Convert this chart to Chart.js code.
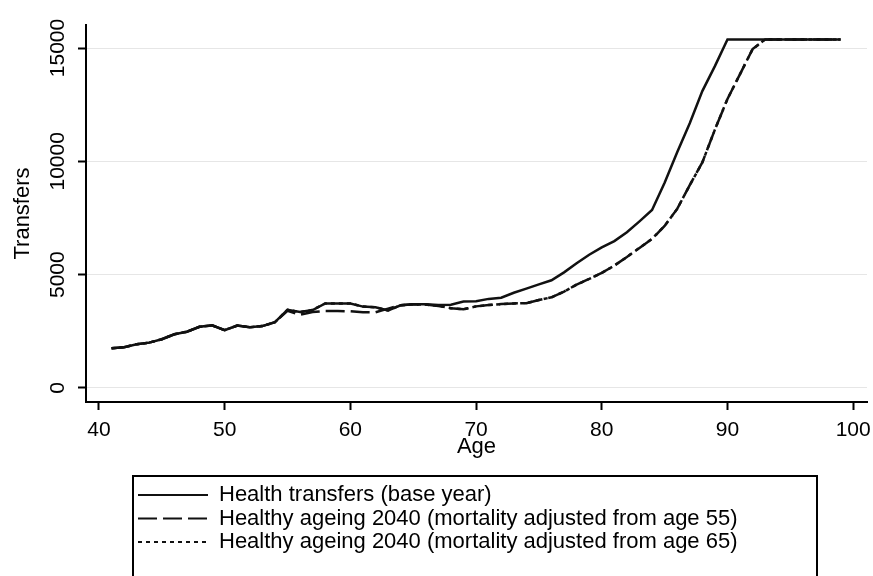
<!DOCTYPE html>
<html>
<head>
<meta charset="utf-8">
<script src="https://cdn.jsdelivr.net/npm/chart.js@4.4.1/dist/chart.umd.min.js"></script>
<style>
  html, body { margin: 0; padding: 0; background: #fff; }
</style>
</head>
<body>
<canvas id="myChart" width="873" height="576"></canvas>
<script>
var ages = [41, 42, 43, 44, 45, 46, 47, 48, 49, 50,
            51, 52, 53, 54, 55, 56, 57, 58, 59, 60,
            61, 62, 63, 64, 65, 66, 67, 68, 69, 70,
            71, 72, 73, 74, 75, 76, 77, 78, 79, 80,
            81, 82, 83, 84, 85, 86, 87, 88, 89, 90,
            91, 92, 93, 94, 95, 96, 97, 98, 99];

var baseYear = [1750, 1800, 1930, 2000, 2150, 2370, 2480, 2700, 2760, 2550,
                2750, 2680, 2730, 2900, 3450, 3350, 3440, 3730, 3730, 3730,
                3590, 3560, 3420, 3650, 3690, 3690, 3660, 3670, 3810, 3830,
                3930, 3980, 4200, 4380, 4570, 4750, 5100, 5500, 5880, 6200,
                6480, 6870, 7350, 7850, 9050, 10400, 11680, 13100, 14200, 15380,
                15380, 15380, 15380, 15380, 15380, 15380, 15380, 15380, 15380];

var ageing55 = [1750, 1800, 1930, 2000, 2150, 2370, 2480, 2700, 2760, 2550,
                2750, 2680, 2730, 2900, 3400, 3230, 3350, 3400, 3400, 3380,
                3340, 3340, 3500, 3650, 3690, 3680, 3620, 3520, 3470, 3600,
                3660, 3700, 3730, 3740, 3880, 4000, 4250, 4560, 4810, 5080,
                5400, 5780, 6180, 6580, 7150, 7900, 8950, 9950, 11400, 12750,
                13850, 14950, 15380, 15380, 15380, 15380, 15380, 15380, 15380];

var ageing65 = [1750, 1800, 1930, 2000, 2150, 2370, 2480, 2700, 2760, 2550,
                2750, 2680, 2730, 2900, 3450, 3350, 3440, 3730, 3730, 3730,
                3590, 3560, 3420, 3650, 3690, 3680, 3620, 3520, 3470, 3600,
                3660, 3700, 3730, 3740, 3880, 4000, 4250, 4560, 4810, 5080,
                5400, 5780, 6180, 6580, 7150, 7900, 8950, 9950, 11400, 12750,
                13850, 14950, 15380, 15380, 15380, 15380, 15380, 15380, 15380];

var seriesNames = ["Health transfers (base year)",
                   "Healthy ageing 2040 (mortality adjusted from age 55)",
                   "Healthy ageing 2040 (mortality adjusted from age 65)"];

var xTicks = [40, 50, 60, 70, 80, 90, 100];
var yTicks = [0, 5000, 10000, 15000];

function toPoints(vals) {
	return vals.map(function(v, i) { return {x: ages[i], y: v}; });
}

Chart.defaults.font.family = '"Liberation Sans", Arial, sans-serif';
Chart.defaults.color = '#000';

// moves the legend under the plot and draws the Stata style frame round it
var legendFrame = {
	id: 'legendFrame',
	afterLayout: function(chart) {
		var lg = chart.legend;
		var h = lg.height;
		lg.left = 136.5;
		lg.top = 482.5;
		lg.bottom = lg.top + h;
	},
	afterDraw: function(chart) {
		var ctx = chart.ctx;
		ctx.save();
		ctx.lineWidth = 2;
		ctx.strokeStyle = '#000';
		ctx.strokeRect(133, 476, 684, 130);
		ctx.restore();
	}
};

function legendLabels(chart) {
	var items = Chart.defaults.plugins.legend.labels.generateLabels(chart);
	items.forEach(function(it) {
		var ds = chart.data.datasets[it.datasetIndex];
		it.lineDash = ds.borderDash || [];
		it.lineWidth = 2;
		it.strokeStyle = ds.borderColor;
	});
	return items;
}

function buildChart() {
	var ctx = document.getElementById('myChart').getContext('2d');
	var chart = new Chart(ctx, {
	    type: 'line',
	    data: {
	        datasets: [{
	            label: seriesNames[0],
	            data: toPoints(baseYear),
	            borderColor: '#111',
	            borderWidth: 2.5,
	            pointRadius: 0
	        }, {
	            label: seriesNames[1],
	            data: toPoints(ageing55),
	            borderColor: '#111',
	            borderWidth: 2.5,
	            borderDash: [19, 6],
	            pointRadius: 0
	        }, {
	            label: seriesNames[2],
	            data: toPoints(ageing65),
	            borderColor: '#111',
	            borderWidth: 2.5,
	            borderDash: [4, 4],
	            pointRadius: 0
	        }]
	    },
	    plugins: [legendFrame],
	    options: {
	        responsive: false,
	        animation: false,
	        layout: {padding: {left: 9.8, right: 6, top: 25, bottom: 34.9}},
	        scales: {
	            x: {
	                type: 'linear',
	                min: 38.97,
	                max: 101.1,
	                afterBuildTicks: function(s) { s.ticks = xTicks.map(function(v) { return {value: v}; }); },
	                afterFit: function(s) { s.paddingLeft = 0; s.paddingRight = 0; },
	                grid: {drawOnChartArea: false, tickLength: 8, tickColor: '#000', tickWidth: 2},
	                border: {color: '#000', width: 2},
	                ticks: {font: {size: 21}, padding: 8, maxRotation: 0, autoSkip: false,
	                        callback: function(v) { return String(v); }},
	                title: {display: true, text: 'Age', font: {size: 22}, padding: {top: -17, bottom: 0}}
	            },
	            y: {
	                min: -620,
	                max: 16015,
	                afterBuildTicks: function(s) { s.ticks = yTicks.map(function(v) { return {value: v}; }); },
	                grid: {color: '#e6e6e6', lineWidth: 1, tickLength: 8, tickColor: '#000', tickWidth: 2},
	                border: {color: '#000', width: 2},
	                ticks: {font: {size: 21}, minRotation: 90, maxRotation: 90, crossAlign: 'center', padding: -9.2, autoSkip: false,
	                        callback: function(v) { return String(v); }},
	                title: {display: true, text: 'Transfers', font: {size: 22}, padding: {top: 0, bottom: 35}}
	            }
	        },
	        plugins: {
	            tooltip: {enabled: false},
	            legend: {
	                position: 'bottom',
	                align: 'start',
	                labels: {
	                    usePointStyle: true,
	                    pointStyle: 'line',
	                    pointStyleWidth: 70,
	                    boxHeight: 20,
	                    padding: 1.5,
	                    font: {size: 22},
	                    color: '#000',
	                    generateLabels: legendLabels
	                }
	            }
	        }
	    }
	});
}

buildChart();
</script>
</body>
</html>
